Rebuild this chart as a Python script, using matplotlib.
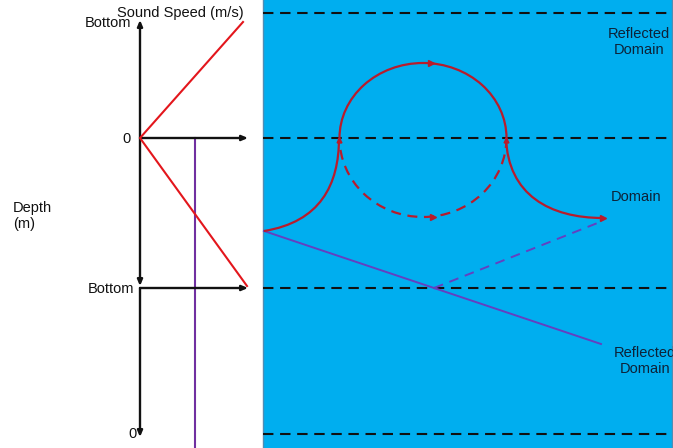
import matplotlib.pyplot as plt
from matplotlib.patches import Arc, PathPatch, Rectangle
from matplotlib.path import Path

plt.rcParams["font.family"] = ["Liberation Sans", "DejaVu Sans"]

W, H = 673, 448

# layout of the sketch, in pixel coordinates (y grows downwards)
axis_x = 140
surface_y = 138
bottom_y = 288
floor_y = 435
speed_axis_end = 248
receiver_x = 195

domain_left = 263
dashed_levels = [13, 138, 288, 434]

# sound-speed profile (left panel) and its image below the bottom
profile_x = [243, 140, 247]
profile_y = [22, 138, 286]

# ray geometry (right panel)
rise_ctrl = [(264, 231), (320, 222), (339, 185), (339, 138)]
fall_ctrl = [(506, 138), (508, 195), (550, 218), (603, 218)]
upper_arc = dict(center=(423, 138), width=167, height=150)
lower_arc = dict(center=(423, 138), width=167, height=158)
direct_ray_x = [264, 601]
direct_ray_y = [231, 344]
reflect_ray_x = [434, 600]
reflect_ray_y = [288, 222]

labels_left = [
    ("Sound Speed (m/s)", 180, 13, "center"),
    ("Bottom", 131, 23, "right"),
    ("0", 131, 139, "right"),
    ("Bottom", 134, 289, "right"),
    ("0", 137, 434, "right"),
]
labels_right = [
    ("Reflected\nDomain", 639, 42),
    ("Domain", 636, 197),
    ("Reflected\nDomain", 645, 361),
]

RED = "#e3161c"
RED_DARK = "#b81c2c"
PURPLE = "#7030a0"
PURPLE_BLUE = "#6440c0"
BLUE = "#00aeef"
INK = "#111111"
NAVY = "#0d2238"

fig = plt.figure(figsize=(W / 100, H / 100), dpi=100)
ax = fig.add_axes([0, 0, 1, 1])
ax.set_xlim(0, W)
ax.set_ylim(H, 0)
ax.axis("off")

# ---- right panel: the water column
ax.add_patch(Rectangle((domain_left, -2), W - domain_left - 1.5, H + 4,
                       facecolor=BLUE, edgecolor="#4f8db5", lw=1, zorder=0))
for y in dashed_levels:
    ax.plot([domain_left, W], [y, y], color=INK, lw=1.5,
            dashes=(5, 3.2), zorder=2)

# ---- left panel: axes with arrows
arrow = dict(arrowstyle="-|>,head_length=0.35,head_width=0.15",
             color=INK, lw=1.7, shrinkA=0, shrinkB=0)
ax.annotate("", xy=(axis_x, 20), xytext=(axis_x, surface_y), arrowprops=arrow)
ax.annotate("", xy=(axis_x, bottom_y - 2), xytext=(axis_x, surface_y),
            arrowprops=arrow)
ax.annotate("", xy=(axis_x, floor_y + 2), xytext=(axis_x, bottom_y),
            arrowprops=arrow)
for y in (surface_y, bottom_y):
    ax.annotate("", xy=(speed_axis_end, y), xytext=(axis_x, y),
                arrowprops=arrow)

ax.plot(profile_x, profile_y, color=RED, lw=1.5, zorder=3)
ax.plot([receiver_x, receiver_x], [surface_y, H + 2], color=PURPLE, lw=1.5,
        zorder=1)

# ---- rays
def bezier(pts, **kw):
    path = Path(pts, [Path.MOVETO, Path.CURVE4, Path.CURVE4, Path.CURVE4])
    ax.add_patch(PathPatch(path, facecolor="none", **kw))

bezier(rise_ctrl, edgecolor=RED_DARK, lw=1.6, zorder=4)
bezier(fall_ctrl, edgecolor=RED_DARK, lw=1.6, zorder=4)
# y axis is inverted, so 180-360 deg is the upper half on screen
ax.add_patch(Arc(upper_arc["center"], upper_arc["width"], upper_arc["height"],
                 theta1=180, theta2=360, color=RED_DARK, lw=1.6, zorder=4))
ax.add_patch(Arc(lower_arc["center"], lower_arc["width"], lower_arc["height"],
                 theta1=0, theta2=180, color=RED_DARK, lw=1.6,
                 linestyle=(0, (4.5, 3)), zorder=4))

ax.plot(direct_ray_x, direct_ray_y, color=PURPLE_BLUE, lw=1.4, zorder=3)
ax.plot(reflect_ray_x, reflect_ray_y, color=PURPLE_BLUE, lw=1.4,
        dashes=(5, 3.5), zorder=3)

# small direction arrowheads along the red ray
heads_x = [431, 433, 603]
heads_y = [63, 217, 218]
ax.plot(heads_x, heads_y, ls="none", marker=">", ms=4.5, color=RED_DARK,
        zorder=5)
ax.plot([339, 506], [140, 140], ls="none", marker="^", ms=3.5, color=RED_DARK,
        zorder=5)

# ---- text
for text, x, y, ha in labels_left:
    ax.text(x, y, text, ha=ha, va="center", fontsize=10.5, color=INK)
ax.text(13, 216, "Depth\n(m)", ha="left", va="center", fontsize=10.5,
        color=INK, linespacing=1.25)
for text, x, y in labels_right:
    ax.text(x, y, text, ha="center", va="center", fontsize=10.5, color=NAVY,
            linespacing=1.2)

fig.savefig("out.png", dpi=100)
